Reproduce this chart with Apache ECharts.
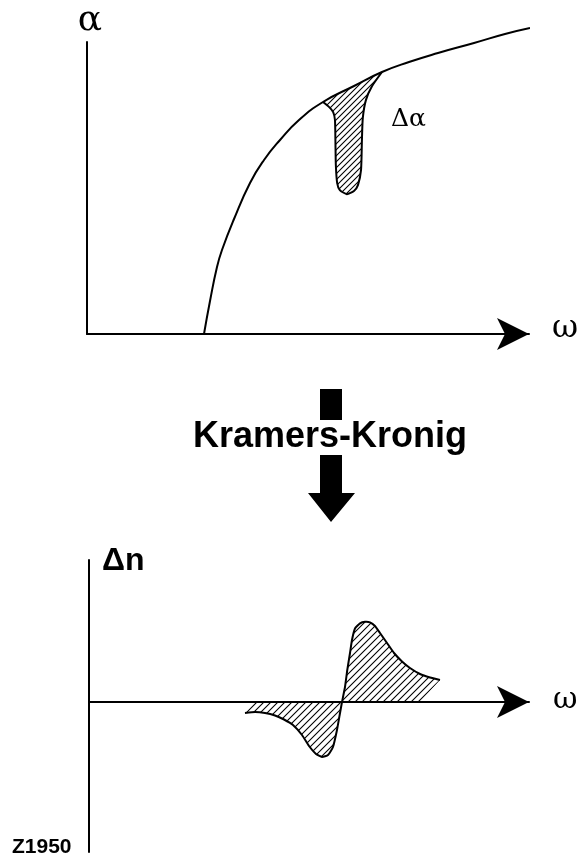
<!DOCTYPE html>
<html>
<head>
<meta charset="utf-8">
<script src="https://cdn.jsdelivr.net/npm/echarts@6/dist/echarts.min.js"></script>
<style>
  html, body { margin: 0; padding: 0; background: #fff; }
  #chart { width: 581px; height: 860px; }
</style>
</head>
<body>
<div id="chart"></div>
<script>
// Absorption edge α(ω)
const alphaOmega  = [26.47, 27.83, 29.41, 30.54, 33.26, 36.88, 40.05, 43.67, 47.96, 53.39, 60.41, 66.74, 72.85, 79.41, 87.56, 94.57, 100.23];
const alphaValues = [0, 11.3, 22.95, 28.77, 39.38, 51.71, 59.59, 66.44, 73.29, 79.45, 84.93, 89.73, 93.15, 96.23, 99.66, 102.74, 104.79];

// Lower edge of the absorption change Δα (dip below the edge curve)
const dipOmega = [53.39, 54.8, 55.7, 56.1, 56.2, 56.3, 56.6, 57.2, 58.8, 60.4, 61.3, 62.0, 62.2, 62.4, 63.1, 64.5, 66.74];
const dipAlpha = [79.45, 77.7, 76.0, 73.3, 66.4, 57.9, 51.7, 49.3, 47.9, 49.0, 51.0, 56.2, 66.4, 74.0, 80.1, 84.9, 89.73];

// Refractive index change Δn(ω)
const dnOmega  = [35.45, 37.73, 40.0, 42.27, 44.32, 46.36, 48.41, 50.0, 51.59, 52.95, 54.32, 55.45, 56.36, 57.05, 57.5,
                  58.18, 58.7, 59.32, 59.77, 60.45, 61.59, 62.73, 63.86, 65.0, 66.14, 67.73, 69.32, 71.14, 72.95, 75.23, 77.5, 79.77];
const dnValues = [-5.5, -5, -5.5, -6.75, -8.75, -11.5, -16.5, -22, -26, -27.5, -26.5, -22.5, -14, -5.5, 0,
                  7.5, 16, 24.5, 31, 36.75, 39.35, 40.15, 39.85, 38, 34.5, 29.5, 24.5, 20.25, 17, 14, 12.25, 11];
// ω values where the hatched Δn region meets the ω axis
const dnBaseOmega = [37.73, 75.23];

// Diagonal hatching used to fill Δα and Δn
function makeHatch(step) {
  const c = document.createElement('canvas');
  c.width = step; c.height = step;
  const g = c.getContext('2d');
  g.strokeStyle = '#000';
  g.lineWidth = 1.1;
  g.beginPath();
  g.moveTo(-1, step + 1); g.lineTo(step + 1, -1);
  g.moveTo(-1, 1); g.lineTo(1, -1);
  g.moveTo(step - 1, step + 1); g.lineTo(step + 1, step - 1);
  g.stroke();
  return c;
}
const hatchTop = makeHatch(6);
const hatchBottom = makeHatch(7);

const axisLineStyle = { color: '#000', width: 2 };
function plainAxis(extra) {
  return Object.assign({
    type: 'value',
    axisTick: { show: false },
    axisLabel: { show: false },
    splitLine: { show: false }
  }, extra);
}

function label(text, x, y, size, family, weight, align) {
  return {
    type: 'text',
    style: {
      text: text, x: x, y: y,
      fontSize: size, fontFamily: family, fontWeight: weight || 'normal',
      fill: '#000', align: align || 'left', verticalAlign: 'middle'
    }
  };
}

const chart = echarts.init(document.getElementById('chart'), null, { renderer: 'canvas' });

chart.setOption({
  animation: false,
  backgroundColor: '#fff',
  grid: [
    { left: 87, top: 42, width: 442, height: 292 },
    { left: 89, top: 560, width: 440, height: 292 }
  ],
  xAxis: [
    plainAxis({ gridIndex: 0, min: 0, max: 100,
      axisLine: { show: true, symbol: ['none', 'arrow'], symbolSize: [24, 32], lineStyle: axisLineStyle } }),
    plainAxis({ gridIndex: 1, min: 0, max: 100,
      axisLine: { show: true, onZero: true, symbol: ['none', 'arrow'], symbolSize: [24, 32], lineStyle: axisLineStyle } })
  ],
  yAxis: [
    plainAxis({ gridIndex: 0, min: 0, max: 100, axisLine: { show: true, lineStyle: axisLineStyle } }),
    plainAxis({ gridIndex: 1, min: -75, max: 71, axisLine: { show: true, onZero: false, lineStyle: axisLineStyle } })
  ],
  series: [
    {
      name: 'α',
      type: 'line',
      xAxisIndex: 0, yAxisIndex: 0,
      data: alphaOmega.map((w, i) => [w, alphaValues[i]]),
      smooth: 0.5,
      showSymbol: false,
      clip: false,
      lineStyle: { color: '#000', width: 2 }
    },
    {
      name: 'Δα',
      type: 'custom',
      xAxisIndex: 0, yAxisIndex: 0,
      data: [[0, 0]],
      renderItem: function (params, api) {
        const w0 = dipOmega[0], w1 = dipOmega[dipOmega.length - 1];
        const top = [];
        alphaOmega.forEach((w, i) => { if (w >= w0 - 1e-6 && w <= w1 + 1e-6) top.push(api.coord([w, alphaValues[i]])); });
        const bottom = dipOmega.map((w, i) => api.coord([w, dipAlpha[i]]));
        return {
          type: 'group',
          children: [
            { type: 'polygon', shape: { points: bottom.concat(top.slice().reverse()) },
              style: { fill: { image: hatchTop, repeat: 'repeat' }, stroke: null } },
            { type: 'polyline', shape: { points: bottom, smooth: 0.2 },
              style: { stroke: '#000', lineWidth: 2, fill: null } }
          ]
        };
      }
    },
    {
      name: 'Δn',
      type: 'custom',
      xAxisIndex: 1, yAxisIndex: 1,
      data: [[0, 0]],
      renderItem: function (params, api) {
        const curve = dnOmega.map((w, i) => api.coord([w, dnValues[i]]));
        const poly = [api.coord([dnBaseOmega[0], 0])].concat(curve, [api.coord([dnBaseOmega[1], 0])]);
        return {
          type: 'group',
          children: [
            { type: 'polygon', shape: { points: poly },
              style: { fill: { image: hatchBottom, repeat: 'repeat' }, stroke: null } },
            { type: 'polyline', shape: { points: curve, smooth: 0.15 },
              style: { stroke: '#000', lineWidth: 2, fill: null } }
          ]
        };
      }
    }
  ],
  graphic: [
    label('α', 90, 21, 36, 'DejaVu Serif', 'normal', 'center'),
    label('ω', 552, 329, 32, 'DejaVu Serif'),
    label('Δα', 391, 119, 25, 'DejaVu Serif'),
    { type: 'rect', shape: { x: 320, y: 389, width: 22, height: 31 }, style: { fill: '#000' } },
    label('Kramers-Kronig', 330, 437, 36, 'Liberation Sans', 'bold', 'center'),
    { type: 'polygon', shape: { points: [[320, 455], [342, 455], [342, 493], [355, 493], [331, 522], [308, 493], [320, 493]] }, style: { fill: '#000' } },
    label('Δn', 102, 561, 32, 'Liberation Sans', 'bold'),
    label('ω', 553, 700, 30, 'DejaVu Serif'),
    label('Z1950', 12, 847, 21, 'Liberation Sans', 'bold')
  ]
});
</script>
</body>
</html>
